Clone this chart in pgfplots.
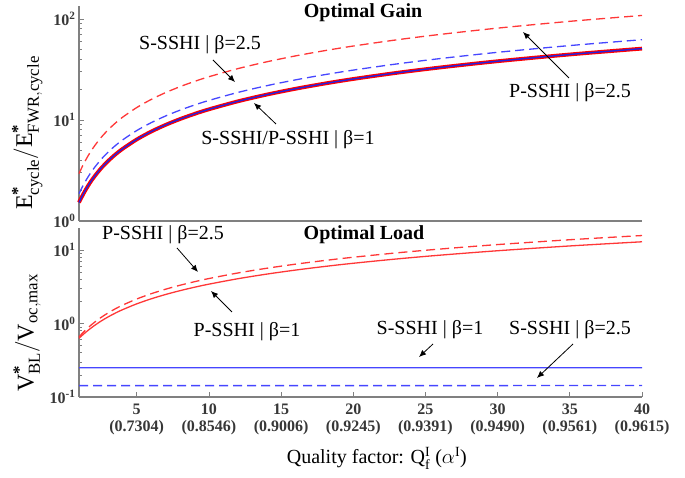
\documentclass[border=0pt]{standalone}
\usepackage{amsmath}
\usepackage{fontspec}
\setmainfont{Liberation Serif}
\usepackage{pgfplots}
\usepackage{pgfplotstable}
\pgfplotsset{compat=1.18}
\usetikzlibrary{arrows.meta}
\definecolor{axgray}{RGB}{128,128,128}
\definecolor{tickgray}{RGB}{55,55,55}
\definecolor{lred}{RGB}{255,55,55}
\definecolor{lblue}{RGB}{70,70,255}
\definecolor{dblue}{RGB}{35,35,225}

\pgfplotstableread{
Q gone gP gS
1 1.525 1.868 2.949
1.25 1.796 2.200 3.509
1.5 2.081 2.550 4.102
1.75 2.376 2.911 4.719
2 2.676 3.278 5.349
2.5 3.287 4.027 6.637
3 3.907 4.785 7.946
3.5 4.531 5.550 9.270
4 5.158 6.319 10.605
5 6.418 7.863 13.286
6 7.683 9.411 15.980
7 8.950 10.964 18.688
8 10.218 12.517 21.397
9 11.488 14.073 24.100
10 12.759 15.630 26.820
12 15.300 18.743 32.252
14 17.843 21.858 37.684
16 20.388 24.975 43.141
18 22.932 28.092 48.570
20 25.480 31.213 54.018
23 29.299 35.891 62.202
26 33.112 40.562 70.363
30 38.208 46.805 81.268
35 44.568 54.596 94.885
40 50.934 62.394 108.49
}\gaintab

\pgfplotstableread{
Q vPone vP
1 0.6312 0.6607
1.25 0.6989 0.7437
1.5 0.7703 0.8312
1.75 0.8440 0.9214
2 0.9190 1.0133
2.5 1.0718 1.2004
3 1.2266 1.3901
3.5 1.3827 1.5813
4 1.5395 1.7733
5 1.8546 2.1593
6 2.1707 2.5466
7 2.4876 2.9349
8 2.8046 3.3232
9 3.1221 3.7122
10 3.4397 4.1011
12 4.0750 4.8794
14 4.7107 5.6582
16 5.3470 6.4378
18 5.9830 7.2167
20 6.6199 7.9968
23 7.5746 9.1661
26 8.5281 10.334
30 9.8020 11.895
35 11.392 13.842
40 12.984 15.793
}\loadtab

\pgfplotstableread{
Q vSone vS
1 0.2500 0.1429
20 0.2500 0.1429
40 0.2501 0.1430
}\sloadtab

\begin{document}
\begin{tikzpicture}
\path[use as bounding box] (0pt,0pt) rectangle (685pt,478pt);

% ---------- top axis ----------
\begin{axis}[ymode=log, scale only axis, width=563pt, height=215pt, xmin=1, xmax=40,
  at={(79pt,257pt)}, anchor=south west,
  axis lines=left,
  axis line style={-, draw=axgray, line width=1.1pt},
  tick style={draw=axgray, line width=0.7pt},
  major tick length=5pt, minor tick length=2.5pt,
  tick align=inside, clip=false,
  yticklabel style={font=\fontsize{16}{16}\selectfont\bfseries, text=tickgray},
  ymin=1, ymax=134.6, xtick=\empty,
  ytick={1,10,100}, yticklabels={10\textsuperscript{0},10\textsuperscript{1},10\textsuperscript{2}},
  minor ytick={2,3,4,5,6,7,8,9,20,30,40,50,60,70,80,90},
  ylabel={$\mathrm{E}^{\text{\bfseries *}}_{\mathrm{cycle}}\mathrm{/}\mathrm{E}^{\text{\bfseries *}}_{\mathrm{FWR,cycle}}$},
  every axis y label/.style={at={(axis description cs:-0.092,0.41)}, anchor=center, rotate=90, font=\fontsize{24}{28}\selectfont},
]
\addplot[smooth, color=lred, line width=1.3pt, dash pattern=on 9pt off 5pt] table[x=Q, y=gS] {\gaintab};
\addplot[smooth, color=lblue, line width=1.3pt, dash pattern=on 9pt off 5pt] table[x=Q, y=gP] {\gaintab};
\addplot[smooth, color=red, line width=3.8pt] table[x=Q, y=gone] {\gaintab};
\addplot[smooth, color=dblue, line width=1.4pt] table[x=Q, y=gone] {\gaintab};
\end{axis}

% ---------- bottom axis ----------
\begin{axis}[ymode=log, scale only axis, width=563pt, height=169pt, xmin=1, xmax=40,
  at={(79pt,81pt)}, anchor=south west,
  axis lines=left,
  axis line style={-, draw=axgray, line width=1.1pt},
  tick style={draw=axgray, line width=0.7pt},
  major tick length=5pt, minor tick length=2.5pt,
  tick align=inside, clip=false,
  yticklabel style={font=\fontsize{16}{16}\selectfont\bfseries, text=tickgray},
  ymin=0.1, ymax=20,
  xtick={5,10,15,20,25,30,35,40},
  xticklabels={{5\\(0.7304)},{10\\(0.8546)},{15\\(0.9006)},{20\\(0.9245)},{25\\(0.9391)},{30\\(0.9490)},{35\\(0.9561)},{40\\(0.9615)}},
  xticklabel style={align=center, font=\fontsize{16}{17}\selectfont\bfseries, text=tickgray, yshift=-3pt},
  ytick={0.1,1,10}, yticklabels={10\textsuperscript{-1},10\textsuperscript{0},10\textsuperscript{1}},
  minor ytick={0.2,0.3,0.4,0.5,0.6,0.7,0.8,0.9,2,3,4,5,6,7,8,9},
  ylabel={$\mathrm{V}^{\text{\bfseries *}}_{\mathrm{BL}}\mathrm{/}\mathrm{V}_{\mathrm{oc,max}}$},
  every axis y label/.style={at={(axis description cs:-0.092,0.38)}, anchor=center, rotate=90, font=\fontsize{24}{28}\selectfont},
  xlabel={Quality factor: $\mathrm{Q}^{\mathrm{I}}_{\mathrm{f}}$ ($\alpha^{\mathrm{I}}$)},
  every axis x label/.style={at={(axis description cs:0.529,-0.361)}, anchor=center, font=\fontsize{20}{24}\selectfont},
]
\addplot[color=lblue, line width=1.3pt] table[x=Q, y=vSone] {\sloadtab};
\addplot[color=lblue, line width=1.3pt, dash pattern=on 9pt off 5pt] table[x=Q, y=vS] {\sloadtab};
\addplot[smooth, color=lred, line width=1.3pt, dash pattern=on 9pt off 5pt] table[x=Q, y=vP] {\loadtab};
\addplot[smooth, color=lred, line width=1.3pt] table[x=Q, y=vPone] {\loadtab};
\end{axis}

% ---------- titles and annotations ----------
\begin{scope}[every node/.style={font=\fontsize{20}{24}\selectfont, inner sep=0pt}]
\node[font=\fontsize{20}{24}\selectfont\bfseries] at (363pt,465pt) {Optimal Gain};
\node[font=\fontsize{20}{24}\selectfont\bfseries] at (364pt,243pt) {Optimal Load};
\node at (200pt,433pt) {S-SSHI | β=2.5};
\node at (288pt,338pt) {S-SSHI/P-SSHI | β=1};
\node at (570pt,385pt) {P-SSHI | β=2.5};
\node at (163pt,243pt) {P-SSHI | β=2.5};
\node at (247pt,146pt) {P-SSHI | β=1};
\node at (430pt,148pt) {S-SSHI | β=1};
\node at (570pt,148pt) {S-SSHI | β=2.5};
\end{scope}
\begin{scope}[line width=0.8pt, -{Latex[length=7pt,width=6pt]}]
\draw (213pt,418pt) -- (235pt,396pt);
\draw (276pt,354pt) -- (254pt,375pt);
\draw (569pt,400pt) -- (523pt,446pt);
\draw (177pt,230pt) -- (198pt,206pt);
\draw (232pt,166pt) -- (211pt,187pt);
\draw (433pt,134pt) -- (419pt,121pt);
\draw (573pt,134pt) -- (537pt,100pt);
\end{scope}
\end{tikzpicture}
\end{document}
